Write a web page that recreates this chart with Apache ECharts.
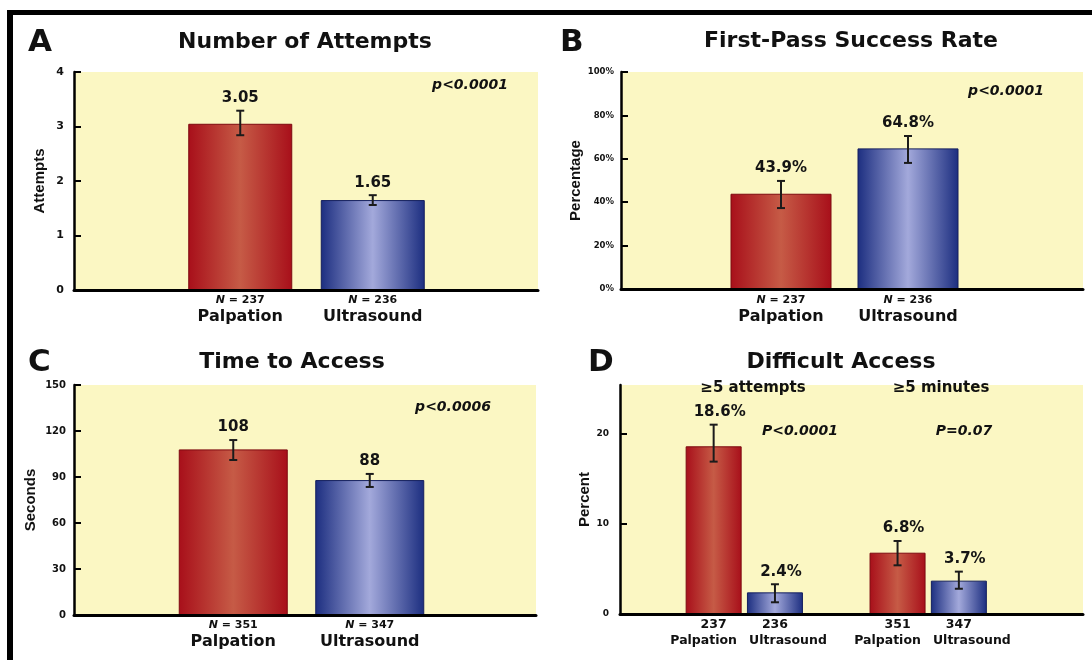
<!DOCTYPE html>
<html><head><meta charset="utf-8">
<script src="https://cdn.jsdelivr.net/npm/echarts@6/dist/echarts.min.js"></script>
<style>html,body{margin:0;padding:0;background:#fff}#c{width:1092px;height:660px}</style>
</head><body><div id="c"></div>
<script>
// ---------- DATA ----------
// Panel A: Number of Attempts
const aTitle = 'Number of Attempts';
const aGroups = ['Palpation', 'Ultrasound'];
const aN = [237, 236];
const aValues = [3.05, 1.65];
const aErrLow = [2.84, 1.56];
const aErrHigh = [3.29, 1.74];
const aLabels = ['3.05', '1.65'];
const aP = 'p<0.0001';
// Panel B: First-Pass Success Rate (%)
const bTitle = 'First-Pass Success Rate';
const bGroups = ['Palpation', 'Ultrasound'];
const bN = [237, 236];
const bValues = [43.9, 64.8];
const bErrLow = [37.3, 58.1];
const bErrHigh = [49.8, 70.5];
const bLabels = ['43.9%', '64.8%'];
const bP = 'p<0.0001';
// Panel C: Time to Access (seconds)
const cTitle = 'Time to Access';
const cGroups = ['Palpation', 'Ultrasound'];
const cN = [351, 347];
const cValues = [108, 88];
const cErrLow = [101.1, 83.5];
const cErrHigh = [114.1, 92.0];
const cLabels = ['108', '88'];
const cP = 'p<0.0006';
// Panel D: Difficult Access (%)
const dTitle = 'Difficult Access';
const dCriteria = ['≥5 attempts', '≥5 minutes'];
const dGroups = ['Palpation', 'Ultrasound'];
const dN = [[237, 236], [351, 347]];
const dValues = [[18.6, 2.4], [6.8, 3.7]];
const dErrLow = [[16.9, 1.3], [5.4, 2.8]];
const dErrHigh = [[21.0, 3.3], [8.1, 4.7]];
const dLabels = [['18.6%', '2.4%'], ['6.8%', '3.7%']];
const dP = ['P<0.0001', 'P=0.07'];

// ---------- STYLE ----------
const HEAVY = 'DejaVu Sans';
const NAMEFONT = "'Liberation Sans', Arial";
const YELLOW = '#FBF7C3';
function grad(dark, light) {
  return new echarts.graphic.LinearGradient(0, 0, 1, 0, [
    { offset: 0, color: dark }, { offset: 0.5, color: light }, { offset: 1, color: dark }
  ]);
}
const FILL = { Palpation: grad('#A80F1A', '#C65B46'), Ultrasound: grad('#1C2E80', '#A3A9DB') };
const EDGE = { Palpation: '#7d0a10', Ultrasound: '#141f5e' };

const option = {
  animation: false,
  backgroundColor: '#fff',
  grid: [], xAxis: [], yAxis: [], series: [], graphic: []
};

function errRenderer(labels, dx) {
  return function (params, api) {
    const i = api.value(0);
    const hi = api.coord([i, api.value(2)]);
    const lo = api.coord([i, api.value(1)]);
    const cap = 4;
    const s = { stroke: '#1b1b1b', lineWidth: 2 };
    return {
      type: 'group', children: [
        { type: 'line', shape: { x1: hi[0], y1: hi[1], x2: lo[0], y2: lo[1] }, style: s },
        { type: 'line', shape: { x1: hi[0] - cap, y1: hi[1], x2: hi[0] + cap, y2: hi[1] }, style: s },
        { type: 'line', shape: { x1: lo[0] - cap, y1: lo[1], x2: lo[0] + cap, y2: lo[1] }, style: s },
        { type: 'text', x: hi[0] + dx, y: hi[1] - 5, style: {
            text: labels[params.dataIndex], align: 'center', verticalAlign: 'bottom',
            fontSize: 15, fontWeight: 'bold', fontFamily: HEAVY, fill: '#141414' } }
      ]
    };
  };
}

function addPanel(p) {
  const gi = option.grid.length;
  option.grid.push({ left: p.frame.left, top: p.frame.top, width: p.frame.width, height: p.frame.height,
    show: true, backgroundColor: YELLOW, borderWidth: 0, outerBoundsMode: 'none' });
  option.grid.push({ left: p.bars.left, top: p.frame.top, width: p.bars.width, height: p.frame.height,
    show: false, outerBoundsMode: 'none' });
  // frame axes
  option.xAxis.push({ gridIndex: gi, type: 'category', data: [''], z: 5,
    axisLine: { show: true, lineStyle: { color: '#000', width: 3 } },
    axisTick: { show: false }, axisLabel: { show: false }, splitLine: { show: false } });
  option.yAxis.push({ gridIndex: gi, type: 'value', min: 0, max: p.max, interval: p.interval,
    name: p.yName, nameLocation: 'middle', nameRotate: 90, nameGap: p.nameGap,
    nameTextStyle: { fontFamily: NAMEFONT, fontWeight: 'bold', fontSize: 15, color: '#111' },
    axisLine: { show: true, lineStyle: { color: '#000', width: 2.5 } },
    axisTick: { show: true, inside: true, length: 7, lineStyle: { color: '#000', width: 2 }, customValues: p.ticks },
    axisLabel: { show: true, margin: p.tickMargin, fontFamily: HEAVY, fontWeight: 'bold', fontSize: p.tickSize,
      color: '#111', formatter: p.tickFmt, customValues: p.ticks },
    splitLine: { show: false } });
  // bars axes
  option.xAxis.push({ gridIndex: gi + 1, type: 'category', data: p.cats,
    axisLine: { show: false }, axisTick: { show: false }, splitLine: { show: false },
    axisLabel: { show: true, interval: 0, margin: p.labelMargin, formatter: p.labelFmt, rich: p.rich, color: '#111' } });
  option.yAxis.push({ gridIndex: gi + 1, type: 'value', min: 0, max: p.max, show: false, splitLine: { show: false } });
  option.series.push({
    type: 'bar', xAxisIndex: gi + 1, yAxisIndex: gi + 1, barWidth: p.barWidth, z: 3,
    data: p.values.map((v, i) => v == null ? null : ({ value: v,
      itemStyle: { color: FILL[p.groups[i]], borderColor: EDGE[p.groups[i]], borderWidth: 1 } }))
  });
  const errData = [];
  const errLabels = [];
  p.values.forEach((v, i) => { if (v != null) { errData.push([i, p.lo[i], p.hi[i]]); errLabels.push(p.labels[i]); } });
  option.series.push({ type: 'custom', xAxisIndex: gi + 1, yAxisIndex: gi + 1, z: 4,
    encode: { x: 0, y: [1, 2] }, renderItem: errRenderer(errLabels, p.labelDx || 0), data: errData });
}

const richAC = {
  n: { fontFamily: HEAVY, fontStyle: 'italic', fontWeight: 'bold', fontSize: 11, lineHeight: 14, color: '#111' },
  t: { fontFamily: HEAVY, fontWeight: 'bold', fontSize: 11, lineHeight: 14, color: '#111' },
  m: { fontFamily: HEAVY, fontWeight: 'bold', fontSize: 16, lineHeight: 19, color: '#111' }
};
function fmtAC(nArr, groups) {
  return function (val, idx) { return '{n|N}{t| = ' + nArr[idx] + '}\n{m|' + groups[idx] + '}'; };
}

// Panel A
addPanel({ frame: { left: 74, top: 72, width: 464, height: 218 }, bars: { left: 174, width: 265 },
  max: 4, interval: 1, ticks: [0, 1, 2, 3, 4], tickFmt: v => String(v), tickSize: 11, tickMargin: 10,
  yName: 'Attempts', nameGap: 27,
  cats: aGroups, values: aValues, groups: aGroups, lo: aErrLow, hi: aErrHigh, labels: aLabels,
  labelFmt: fmtAC(aN, aGroups), rich: richAC, labelMargin: 3, barWidth: 104 });
// Panel B
addPanel({ frame: { left: 621, top: 72, width: 462, height: 217 }, bars: { left: 717.5, width: 254 },
  max: 100, interval: 20, ticks: [0, 20, 40, 60, 80, 100], tickFmt: v => v + '%', tickSize: 8.5, tickMargin: 7,
  yName: 'Percentage', nameGap: 38,
  cats: bGroups, values: bValues, groups: bGroups, lo: bErrLow, hi: bErrHigh, labels: bLabels,
  labelFmt: fmtAC(bN, bGroups), rich: richAC, labelMargin: 4, barWidth: 101 });
// Panel C
addPanel({ frame: { left: 74, top: 385, width: 462, height: 230 }, bars: { left: 165, width: 273 },
  max: 150, interval: 30, ticks: [0, 30, 60, 90, 120, 150], tickFmt: v => String(v), tickSize: 10, tickMargin: 8,
  yName: 'Seconds', nameGap: 36,
  cats: cGroups, values: cValues, groups: cGroups, lo: cErrLow, hi: cErrHigh, labels: cLabels,
  labelFmt: fmtAC(cN, cGroups), rich: richAC, labelMargin: 3, barWidth: 109 });
// Panel D (two criteria, each with Palpation/Ultrasound; a blank slot separates them)
const dCats = [], dVals = [], dGrp = [], dLo = [], dHi = [], dLab = [], dNs = [];
dCriteria.forEach((c, ci) => {
  if (ci > 0) { dCats.push(''); dVals.push(null); dGrp.push(null); dLo.push(null); dHi.push(null); dLab.push(''); dNs.push(''); }
  dGroups.forEach((g, gi) => {
    dCats.push(g); dVals.push(dValues[ci][gi]); dGrp.push(g);
    dLo.push(dErrLow[ci][gi]); dHi.push(dErrHigh[ci][gi]); dLab.push(dLabels[ci][gi]); dNs.push(dN[ci][gi]);
  });
});
const richD = {
  t: { fontFamily: HEAVY, fontWeight: 'bold', fontSize: 12.5, lineHeight: 15, color: '#111' },
  Palpation: { fontFamily: HEAVY, fontWeight: 'bold', fontSize: 12.5, lineHeight: 17, color: '#111', padding: [0, 20, 0, 0] },
  Ultrasound: { fontFamily: HEAVY, fontWeight: 'bold', fontSize: 12.5, lineHeight: 17, color: '#111', padding: [0, 0, 0, 26] }
};
addPanel({ frame: { left: 620, top: 385, width: 463, height: 229 }, bars: { left: 683, width: 306.5 },
  max: 25.4, interval: 10, ticks: [0, 10, 20], tickFmt: v => String(v), tickSize: 9, tickMargin: 11,
  yName: 'Percent', nameGap: 28,
  cats: dCats, values: dVals, groups: dGrp, lo: dLo, hi: dHi, labels: dLab, labelDx: 6,
  labelFmt: (v, i) => v === '' ? '' : '{t|' + dNs[i] + '}\n{' + v + '|' + v + '}', rich: richD, labelMargin: 3, barWidth: 56 });

// ---------- TEXT / FRAME ----------
function txt(x, y, text, size, opts) {
  return Object.assign({ type: 'text', x: x, y: y, z: 10, style: Object.assign({
    text: text, align: 'center', verticalAlign: 'middle', fontFamily: HEAVY, fontWeight: 'bold',
    fontSize: size, fill: '#111' }, opts || {}) });
}
option.graphic = [
  { type: 'rect', shape: { x: 7, y: 10, width: 1085, height: 5 }, style: { fill: '#000' } },
  { type: 'rect', shape: { x: 7, y: 10, width: 6, height: 650 }, style: { fill: '#000' } },
  txt(28, 43, 'A', 31, { align: 'left' }),
  txt(560, 43, 'B', 31, { align: 'left' }),
  txt(28, 363, 'C', 31, { align: 'left' }),
  txt(588, 363, 'D', 31, { align: 'left' }),
  txt(305, 42, aTitle, 22),
  txt(851, 41, bTitle, 22),
  txt(292, 362, cTitle, 22),
  txt(841, 362, dTitle, 22),
  txt(470, 85, aP, 14, { fontStyle: 'italic' }),
  txt(1006, 91, bP, 14, { fontStyle: 'italic' }),
  txt(453, 407, cP, 14, { fontStyle: 'italic' }),
  txt(753, 388, dCriteria[0], 15),
  txt(941, 388, dCriteria[1], 15),
  txt(800, 431, dP[0], 14, { fontStyle: 'italic' }),
  txt(964, 431, dP[1], 14, { fontStyle: 'italic' })
];

const chart = echarts.init(document.getElementById('c'), null, { renderer: 'canvas' });
chart.setOption(option);
</script>
</body></html>
